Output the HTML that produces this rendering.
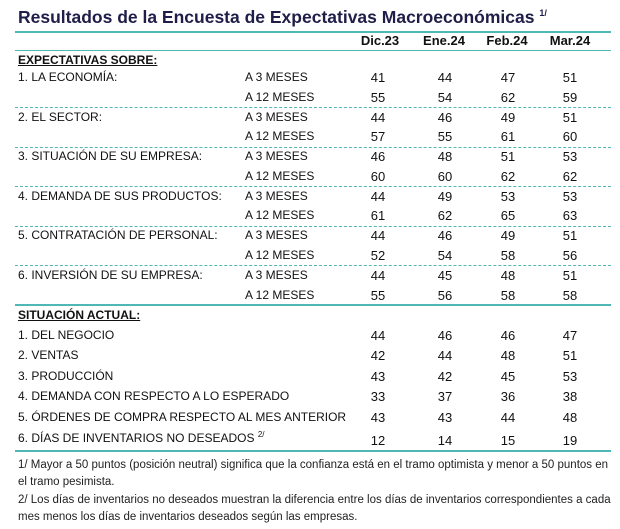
<!DOCTYPE html>
<html><head><meta charset="utf-8"><style>
body{margin:0;width:620px;height:529px;background:#fff;position:relative;font-family:"Liberation Sans",Arial,sans-serif;color:#111;overflow:hidden}
div{position:absolute;white-space:nowrap}
.t{left:18px;top:7px;font-size:17.5px;font-weight:bold;color:#1e1e48}
.l{left:18px;font-size:12px}
.m{left:245px;font-size:12px}
.n{font-size:13px;width:40px;text-align:center}
.h{font-size:13px;font-weight:bold;width:60px;text-align:center;top:33px}
.hr{left:15px;width:596px;height:0}
.thick{border-top:2.5px solid #4fb8b4}
.thin{border-top:1.5px solid #4fb8b4}
.dash{border-top:1.5px dashed #4fb8b4}
.u{font-weight:bold;text-decoration:underline;font-size:12px;left:18px}
.f{left:18px;font-size:11.5px;color:#222}
</style></head><body>
<div class="t">Resultados de la Encuesta de Expectativas Macroeconómicas <sup style="font-size:9px">1/</sup></div>
<div class="hr thick" style="top:31px"></div>
<div class="h" style="left:350px">Dic.23</div>
<div class="h" style="left:414px">Ene.24</div>
<div class="h" style="left:477px">Feb.24</div>
<div class="h" style="left:540px">Mar.24</div>
<div class="hr thin" style="top:50px"></div>
<div class="u" style="top:53px">EXPECTATIVAS SOBRE:</div>
<div id="rows"></div>
<script>
var d=[["1. LA ECONOMÍA:",[41,44,47,51],[55,54,62,59]],["2. EL SECTOR:",[44,46,49,51],[57,55,61,60]],["3. SITUACIÓN DE SU EMPRESA:",[46,48,51,53],[60,60,62,62]],["4. DEMANDA DE SUS PRODUCTOS:",[44,49,53,53],[61,62,65,63]],["5. CONTRATACIÓN DE PERSONAL:",[44,46,49,51],[52,54,58,56]],["6. INVERSIÓN DE SU EMPRESA:",[44,45,48,51],[55,56,58,58]]];
var cx=[378,445,508,570],h="";
function nums(a,y){for(var i=0;i<4;i++)h+='<div class="n" style="left:'+(cx[i]-20)+'px;top:'+y+'px">'+a[i]+'</div>';}
d.forEach(function(r,k){var y=70+k*39.6;
h+='<div class="l" style="top:'+y+'px">'+r[0]+'</div><div class="m" style="top:'+y+'px">A 3 MESES</div>';nums(r[1],y);
h+='<div class="m" style="top:'+(y+19.5)+'px">A 12 MESES</div>';nums(r[2],y+19.5);
if(k<5)h+='<div class="hr dash" style="top:'+(y+37)+'px"></div>';});
h+='<div class="hr thick" style="top:304px"></div><div class="u" style="top:308px">SITUACIÓN ACTUAL:</div>';
var s=[["1. DEL NEGOCIO",[44,46,46,47]],["2. VENTAS",[42,44,48,51]],["3. PRODUCCIÓN",[43,42,45,53]],["4. DEMANDA CON RESPECTO A LO ESPERADO",[33,37,36,38]],["5. ÓRDENES DE COMPRA RESPECTO AL MES ANTERIOR",[43,43,44,48]],["6. DÍAS DE INVENTARIOS NO DESEADOS <sup style=\"font-size:8px\">2/</sup>",[12,14,15,19]]];
s.forEach(function(r,k){var y=328+k*20.4;h+='<div class="l" style="top:'+y+'px">'+r[0]+'</div>';nums(r[1],y+(k==5?3:0));});
h+='<div class="hr thick" style="top:450px"></div>';
document.getElementById("rows").outerHTML=h;
</script>
<div class="f" style="top:459px">1/ Mayor a 50 puntos (posición neutral) significa que la confianza está en el tramo optimista y menor a 50 puntos en</div>
<div class="f" style="top:476px">el tramo pesimista.</div>
<div class="f" style="top:494px">2/ Los días de inventarios no deseados muestran la diferencia entre los días de inventarios correspondientes a cada</div>
<div class="f" style="top:511px">mes menos los días de inventarios deseados según las empresas.</div>
</body></html>
